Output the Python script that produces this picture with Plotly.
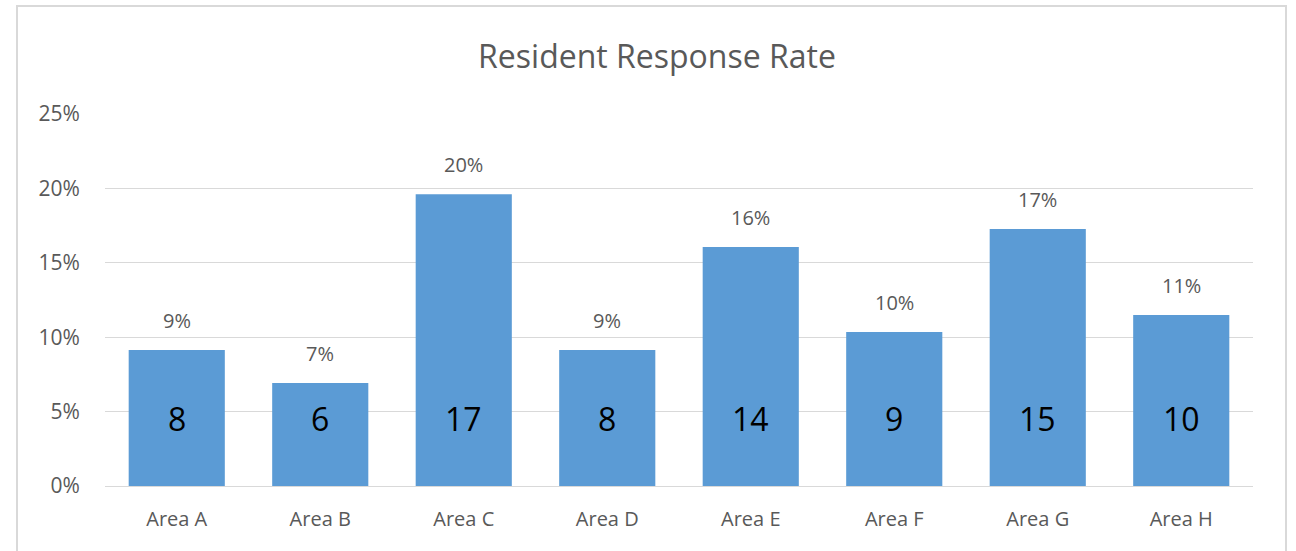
import plotly.graph_objects as go

categories = ["Area A", "Area B", "Area C", "Area D", "Area E", "Area F", "Area G", "Area H"]
response_rate = [0.0914, 0.0692, 0.196, 0.0914, 0.1606, 0.1035, 0.1727, 0.1149]
responses = [8, 6, 17, 8, 14, 9, 15, 10]
y_ticks = [0, 0.05, 0.10, 0.15, 0.20, 0.25]
y_tick_labels = ["0%", "5%", "10%", "15%", "20%", "25%"]

FONT = "Open Sans"
GRAY = "#595959"

fig = go.Figure()
fig.add_trace(go.Bar(
    x=categories,
    y=response_rate,
    marker=dict(color="#5B9BD5", line=dict(width=0)),
    hoverinfo="skip",
))

for cat, v, n in zip(categories, response_rate, responses):
    fig.add_annotation(
        x=cat, y=v, text=f"{round(v * 100):d}%", showarrow=False,
        xref="x", yref="y", yanchor="bottom", yshift=14,
        font=dict(family=FONT, size=20, color=GRAY),
    )
    fig.add_annotation(
        x=cat, y=0.0457, text=str(n), showarrow=False,
        xref="x", yref="y", yanchor="middle",
        font=dict(family=FONT, size=32, color="#000000"),
    )

# chart border
fig.add_shape(
    type="rect", xref="paper", yref="paper",
    x0=(17 - 105) / 1148, x1=(1286 - 105) / 1148,
    y0=-0.4, y1=(486 - 6) / 372,
    line=dict(color="#D9D9D9", width=2), fillcolor="rgba(0,0,0,0)",
    layer="below",
)

fig.update_layout(
    width=1296, height=551,
    margin=dict(l=105, r=43, t=114, b=65),
    paper_bgcolor="white", plot_bgcolor="white",
    bargap=0.33,
    showlegend=False,
    title=dict(
        text="Resident Response Rate",
        x=657 / 1296, xanchor="center", xref="container",
        y=1 - 57 / 551, yanchor="middle", yref="container",
        font=dict(family=FONT, size=32, color=GRAY),
    ),
    font=dict(family=FONT, color=GRAY),
)

fig.update_yaxes(
    range=[0, 0.25],
    tickvals=y_ticks, ticktext=y_tick_labels,
    showgrid=True, gridcolor="#D9D9D9", gridwidth=1,
    zeroline=True, zerolinecolor="#D9D9D9", zerolinewidth=1,
    showline=False,
    ticks="outside", ticklen=20, tickcolor="rgba(0,0,0,0)",
    tickfont=dict(family=FONT, size=21, color=GRAY),
    fixedrange=True,
)
fig.update_xaxes(
    showgrid=False, showline=False,
    ticks="outside", ticklen=15, tickcolor="rgba(0,0,0,0)",
    tickfont=dict(family=FONT, size=20, color=GRAY),
    fixedrange=True,
)

fig.write_html(
    "out.html",
    config={"displayModeBar": False},
    post_script="document.body.style.margin='0px';",
)
